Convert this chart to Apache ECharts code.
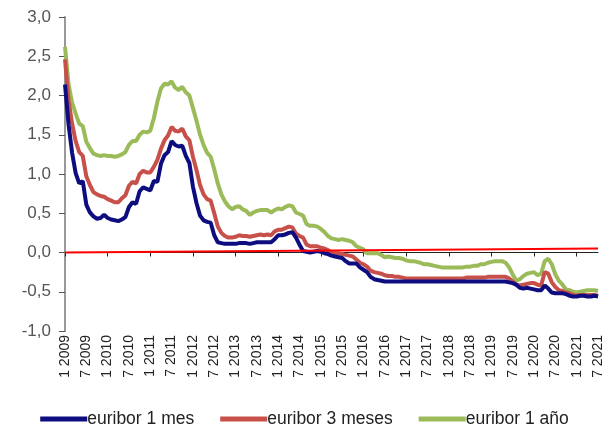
<!DOCTYPE html>
<html>
<head>
<meta charset="utf-8">
<script src="https://cdn.jsdelivr.net/npm/echarts@6/dist/echarts.min.js"></script>
<style>html,body{margin:0;padding:0;background:#fff;}#c{width:609px;height:430px;}</style>
</head>
<body>
<div id="c"></div>
<script>
// Monthly categories Jan 2009 - Jul 2021
const startYear = 2009, endYear = 2021, endMonth = 7;
const categories = [];
for (let y = startYear; y <= endYear; y++) {
  for (let m = 1; m <= 12; m++) {
    if (y === endYear && m > endMonth) break;
    categories.push(m + ' ' + y);
  }
}
const seriesNames = ['euribor 1 mes', 'euribor 3 meses', 'euribor 1 año'];
const yTicks = [-1.0, -0.5, 0.0, 0.5, 1.0, 1.5, 2.0, 2.5, 3.0];
const zeroLine = [0.0, 0.05];

const euribor1m = [
  2.14,1.63,1.27,1.01,0.88,0.91,0.61,0.51,0.46,0.43,0.44,0.48,
  0.44,0.42,0.41,0.40,0.42,0.45,0.58,0.64,0.62,0.78,0.83,0.81,
  0.79,0.91,0.90,1.13,1.24,1.28,1.42,1.37,1.35,1.36,1.23,1.14,
  0.84,0.63,0.47,0.41,0.39,0.38,0.22,0.13,0.12,0.11,0.11,0.11,
  0.11,0.12,0.12,0.12,0.11,0.12,0.13,0.13,0.13,0.13,0.13,0.17,
  0.22,0.22,0.23,0.25,0.26,0.19,0.10,0.02,0.01,0.00,0.01,0.02,
  0.01,-0.01,-0.02,-0.04,-0.05,-0.06,-0.07,-0.11,-0.14,-0.14,-0.14,-0.19,
  -0.22,-0.25,-0.31,-0.34,-0.35,-0.36,-0.37,-0.37,-0.37,-0.37,-0.37,-0.37,
  -0.37,-0.37,-0.37,-0.37,-0.37,-0.37,-0.37,-0.37,-0.37,-0.37,-0.37,-0.37,
  -0.37,-0.37,-0.37,-0.37,-0.37,-0.37,-0.37,-0.37,-0.37,-0.37,-0.37,-0.37,
  -0.37,-0.37,-0.37,-0.37,-0.37,-0.38,-0.39,-0.41,-0.45,-0.46,-0.45,-0.46,
  -0.47,-0.48,-0.48,-0.42,-0.46,-0.51,-0.52,-0.52,-0.52,-0.53,-0.55,-0.56,
  -0.56,-0.55,-0.55,-0.56,-0.56,-0.55,-0.56
];
const euribor3m = [
  2.46,1.94,1.64,1.42,1.28,1.23,0.97,0.86,0.77,0.74,0.72,0.71,
  0.68,0.66,0.64,0.64,0.69,0.73,0.85,0.90,0.88,1.00,1.04,1.02,
  1.02,1.09,1.18,1.32,1.43,1.49,1.60,1.55,1.54,1.58,1.48,1.43,
  1.22,1.05,0.86,0.74,0.68,0.66,0.50,0.33,0.25,0.21,0.19,0.19,
  0.20,0.22,0.21,0.21,0.20,0.21,0.22,0.23,0.22,0.23,0.22,0.27,
  0.29,0.29,0.31,0.33,0.32,0.24,0.21,0.19,0.10,0.08,0.08,0.08,
  0.06,0.05,0.03,0.00,-0.01,-0.01,-0.02,-0.03,-0.04,-0.05,-0.09,-0.13,
  -0.15,-0.18,-0.23,-0.25,-0.26,-0.27,-0.29,-0.30,-0.30,-0.31,-0.31,-0.32,
  -0.33,-0.33,-0.33,-0.33,-0.33,-0.33,-0.33,-0.33,-0.33,-0.33,-0.33,-0.33,
  -0.33,-0.33,-0.33,-0.33,-0.33,-0.32,-0.32,-0.32,-0.32,-0.32,-0.32,-0.31,
  -0.31,-0.31,-0.31,-0.31,-0.31,-0.33,-0.37,-0.41,-0.42,-0.41,-0.40,-0.39,
  -0.39,-0.41,-0.42,-0.25,-0.27,-0.38,-0.44,-0.48,-0.49,-0.51,-0.52,-0.54,
  -0.55,-0.54,-0.54,-0.54,-0.54,-0.54,-0.55
];
const euribor12m = [
  2.62,2.14,1.91,1.77,1.64,1.61,1.41,1.33,1.26,1.24,1.23,1.24,
  1.23,1.23,1.22,1.23,1.25,1.28,1.37,1.42,1.42,1.50,1.54,1.53,
  1.55,1.71,1.92,2.09,2.15,2.14,2.18,2.10,2.07,2.11,2.04,2.00,
  1.84,1.68,1.50,1.37,1.27,1.22,1.06,0.88,0.74,0.65,0.59,0.55,
  0.58,0.59,0.55,0.53,0.48,0.51,0.53,0.54,0.54,0.54,0.51,0.54,
  0.56,0.55,0.58,0.60,0.59,0.51,0.49,0.47,0.36,0.34,0.34,0.33,
  0.30,0.26,0.21,0.18,0.17,0.16,0.17,0.16,0.15,0.13,0.08,0.06,
  0.04,-0.01,-0.01,-0.01,-0.01,-0.03,-0.06,-0.05,-0.06,-0.07,-0.07,-0.08,
  -0.10,-0.11,-0.11,-0.12,-0.13,-0.15,-0.15,-0.16,-0.17,-0.18,-0.19,-0.19,
  -0.19,-0.19,-0.19,-0.19,-0.19,-0.18,-0.18,-0.17,-0.17,-0.15,-0.15,-0.13,
  -0.12,-0.11,-0.11,-0.11,-0.13,-0.19,-0.28,-0.36,-0.34,-0.30,-0.27,-0.26,
  -0.25,-0.29,-0.27,-0.11,-0.08,-0.15,-0.28,-0.36,-0.41,-0.47,-0.48,-0.50,
  -0.51,-0.50,-0.49,-0.48,-0.48,-0.48,-0.49
];

const colors = ['#0d0d80', '#c8504b', '#9bbb59'];
const chart = echarts.init(document.getElementById('c'), null, {renderer: 'canvas'});
const fontFam = 'Liberation Sans, Arial, sans-serif';

function lineSeries(name, data, color, z) {
  return {
    name: name, type: 'line', data: data, symbol: 'none', smooth: false, z: z,
    lineStyle: {color: color, width: 4},
    itemStyle: {color: color}
  };
}

const s1 = lineSeries(seriesNames[0], euribor1m, colors[0], 4);
s1.markLine = {
  silent: true, symbol: 'none', label: {show: false},
  lineStyle: {color: '#ff0000', width: 2, type: 'solid'},
  data: [[{coord: [categories[0], zeroLine[0]]}, {coord: [categories[categories.length - 1], zeroLine[1]]}]]
};

chart.setOption({
  animation: false,
  backgroundColor: '#fff',
  grid: {left: 65, right: 11, top: 17, bottom: 99, containLabel: false},
  legend: {
    top: 405, left: 'center', icon: 'rect', itemWidth: 47, itemHeight: 5, itemGap: 26,
    textStyle: {color: '#222', fontSize: 17.5, fontFamily: fontFam, padding: [0, 0, 0, -5]},
    data: seriesNames
  },
  xAxis: {
    type: 'category', data: categories, boundaryGap: false,
    axisLine: {lineStyle: {color: '#222', width: 1}},
    axisTick: {show: true, interval: 11, length: 4, inside: false, lineStyle: {color: '#222'}},
    axisLabel: {
      interval: 5, rotate: 90, color: '#222', fontSize: 14, fontFamily: fontFam, margin: 4
    },
    splitLine: {show: false}
  },
  yAxis: {
    type: 'value', min: yTicks[0], max: yTicks[yTicks.length - 1], interval: 0.5,
    axisLine: {show: true, lineStyle: {color: '#999', width: 2}},
    axisTick: {show: true, length: 6, lineStyle: {color: '#555'}},
    axisLabel: {
      color: '#555', fontSize: 17, fontFamily: fontFam, margin: 14,
      formatter: v => v.toFixed(1).replace('.', ',')
    },
    splitLine: {show: false}
  },
  series: [
    s1,
    lineSeries(seriesNames[1], euribor3m, colors[1], 3),
    lineSeries(seriesNames[2], euribor12m, colors[2], 2)
  ]
});
</script>
</body>
</html>
